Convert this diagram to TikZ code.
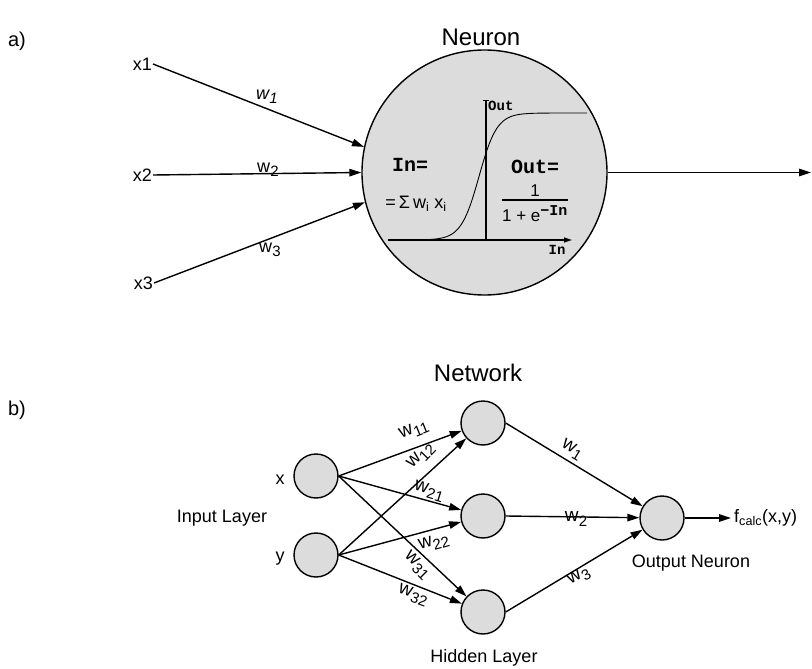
\documentclass[tikz,border=0pt]{standalone}
\usepackage{fontspec}
\setmainfont{Liberation Sans}
\newfontfamily\cour{Liberation Mono}
\usepackage{graphicx}
\usetikzlibrary{arrows.meta}
\definecolor{nfill}{HTML}{DCDCDC}
\newcommand{\fsz}[1]{\fontsize{#1}{#1}\selectfont}
\newcommand{\wl}[1]{w\kern0.3pt\raisebox{-0.45ex}{\fsz{15}#1}}
\begin{document}
\begin{tikzpicture}[x=1pt,y=-1pt,
  neur/.style={circle, draw, line width=1.4pt, fill=nfill, inner sep=0pt},
  small/.style={neur, minimum size=44pt},
  edge/.style={line width=1.4pt, -{Triangle[length=12pt,width=7.5pt]}},
  lbl/.style={font=\fsz{18}, inner sep=1pt},
  wt/.style={font=\fsz{19}, inner sep=0pt},
  mono/.style={font=\cour\bfseries\fsz{20}, inner sep=0pt},
  title/.style={font=\fsz{24}, inner sep=0pt}]
\useasboundingbox (0,0) rectangle (812,669);

% ---------- a) ----------
\node[font=\fsz{20}] (la) at (17,41) {a)};
\node[title] (tneuron) at (481,37) {Neuron};
\node[neur, minimum size=245pt] (neuron) at (484.5,172.5) {};

\node[lbl, anchor=east] (x1) at (153,64) {x1};
\node[lbl, anchor=east] (x2) at (153,175) {x2};
\node[lbl, anchor=east] (x3) at (154,283) {x3};

\draw[edge] (x1.east) -- (neuron.168);
\draw[edge] (x2.east) -- (neuron.180);
\draw[edge] (x3.east) -- (neuron.194);

\node[wt, font=\itshape\fsz{18}] (w1a) at (267,97) {\wl{1}};
\node[wt, font=\fsz{18}] (w2a) at (268,170) {\wl{2}};
\node[wt, font=\fsz{18}] (w3a) at (270,250) {\wl{3}};

% axes and sigmoid
\coordinate (vb) at (486,240);
\coordinate (vt) at (486,100);
\coordinate (hl) at (388,240);
\coordinate (hr) at (572,240);
\draw[line width=1.2pt] (vb) -- (vt);
\draw[line width=0.9pt] ([xshift=-3pt]vt) -- ([xshift=3pt]vt);
\draw[line width=1.2pt, -{Triangle[length=8pt,width=5pt]}] (hl) -- (hr);
\draw[line width=0.9pt] plot[domain=388:587, samples=120]
  (\x, {240 - 127/(1+exp(min(9,max(-9,-(\x-479)/9))))});

\node[mono, font=\cour\bfseries\fsz{14}, anchor=west] (outl) at (488,106) {Out};
\node[mono, font=\cour\bfseries\fsz{14}] (inl) at (557,250) {In};

\node[mono] (ineq) at (410,165) {In=};
\node[font=\fsz{18}, inner sep=0pt] (sum) at (416,204) {=\,Σ\,w\textsubscript{i} x\textsubscript{i}};
\node[mono] (outeq) at (535,167) {Out=};
\node[font=\fsz{17}, inner sep=0pt] (num) at (535,191) {1};
\coordinate (barl) at (502,200);
\coordinate (barr) at (568,200);
\draw[line width=1.2pt] (barl) -- (barr);
\node[font=\fsz{17}, inner sep=0pt] (den) at (535,214) {1 + e\textsuperscript{\cour\bfseries\fsz{15}−In}};

\coordinate (oend) at (811,172.5);
\draw[edge] (neuron.0) -- (oend);

% ---------- b) ----------
\node[font=\fsz{20}] (lb) at (17,410) {b)};
\node[title] (tnet) at (478,373) {Network};

\node[small] (ix) at (316,476) {};
\node[small] (iy) at (316,555) {};
\node[small] (h1) at (483,423) {};
\node[small] (h2) at (483,516) {};
\node[small] (h3) at (483,612) {};
\node[small] (o) at (662,518) {};

\node[lbl] (xl) at (280,480) {x};
\node[lbl] (yl) at (280,559) {y};
\node[lbl] (inlay) at (222,518) {Input Layer};
\node[lbl] (hidlay) at (484,658) {Hidden Layer};
\node[lbl] (outneu) at (691,563) {Output Neuron};

\draw[edge] (ix.east) -- (h1);
\draw[edge] (ix.east) -- (h2);
\draw[edge] (ix.east) -- (h3);
\draw[edge] (iy.east) -- (h1);
\draw[edge] (iy.east) -- (h2);
\draw[edge] (iy.east) -- (h3);
\draw[edge] (h1.east) -- (o);
\draw[edge] (h2.east) -- (o);
\draw[edge] (h3.east) -- (o);

\node[wt, rotate=22] (w11) at (414,430) {\wl{11}};
\node[wt, rotate=46] (w12) at (421,456) {\wl{12}};
\node[wt, rotate=-17] (w21) at (429,491) {\wl{21}};
\node[wt, rotate=16] (w22) at (434,543) {\wl{22}};
\node[wt, rotate=-45] (w31) at (417,565) {\wl{31}};
\node[wt, rotate=-20] (w32) at (413,595) {\wl{32}};

\node[wt, rotate=-31] (wo1) at (572,450) {\wl{1}};
\node[wt] (wo2) at (576,519) {\wl{2}};
\node[wt, rotate=30] (wo3) at (579,577) {\wl{3}};

\coordinate (fend) at (731,518);
\draw[edge] (o) -- (fend);
\node[lbl, anchor=west] (fcalc) at (733,518) {f\textsubscript{calc}(x,y)};
\end{tikzpicture}
\end{document}
